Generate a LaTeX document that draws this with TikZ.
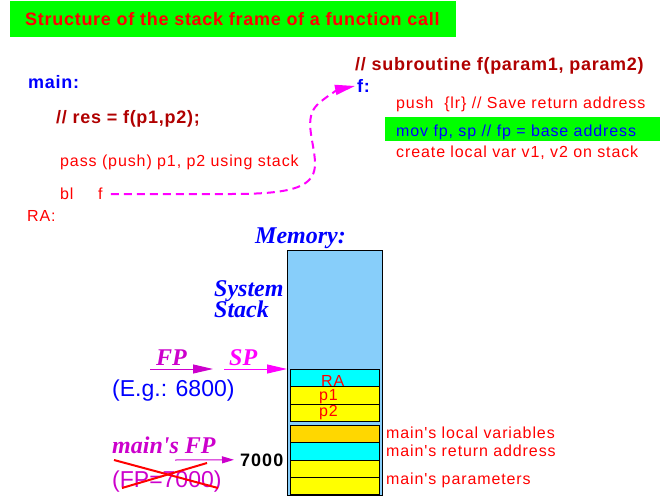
\documentclass[tikz,border=0pt]{standalone}
\usepackage{fontspec}
\setmainfont{Liberation Sans}
\newfontfamily\codefont[LetterSpace=5.6]{Liberation Sans}
\newfontfamily\headfont[LetterSpace=4]{Liberation Sans}
\newfontfamily\memfont{Liberation Serif}
\usetikzlibrary{arrows.meta}
\definecolor{darkred}{RGB}{176,0,0}
\definecolor{brightgreen}{RGB}{0,255,0}
\definecolor{memblue}{RGB}{135,206,250}
\definecolor{cellcyan}{RGB}{0,255,255}
\definecolor{cellyellow}{RGB}{255,255,0}
\definecolor{cellgold}{RGB}{255,215,0}
\definecolor{fpmag}{RGB}{204,0,204}
\definecolor{spmag}{RGB}{255,0,255}
\tikzset{
  txt/.style={anchor=base west,inner sep=0pt},
  code/.style={txt,text=red,font=\codefont\fontsize{16}{19}\selectfont},
  head/.style={txt,font=\headfont\bfseries\fontsize{18}{22}\selectfont},
  mem/.style={txt,font=\memfont\bfseries\itshape\fontsize{24}{28}\selectfont},
  big/.style={txt,font=\fontsize{23}{27}\selectfont},
  cell/.style={draw=black,line width=1pt},
  ptr/.style={line width=1pt,-{Triangle[length=20pt,width=9pt]}},
}
\begin{document}
\begin{tikzpicture}[x=1pt,y=-1pt]
\useasboundingbox (0,0) rectangle (666,497);
\fill[brightgreen] (10,1) rectangle (456,37);
\node[head,text=red] (title) at (25,26) {Structure of the stack frame of a function call};
\node[head,text=blue] (mainlbl) at (28,89) {main:};
\node[head,text=darkred] (rescall) at (56,124) {// res = f(p1,p2);};
\node[code] (passln) at (60,167) {pass (push) p1, p2 using stack};
\node[code] (bl) at (60,200) {bl};
\node[code] (blf) at (98,200) {f};
\node[code] (ra) at (27,222) {RA:};
\node[head,text=darkred] (subhdr) at (355,71) {// subroutine f(param1, param2)};
\node[head,text=blue] (fsub) at (357,92.5) {f:};
\node[code] (pushln) at (396,109) {push\ \ \{lr\} // Save return address};
\fill[brightgreen] (385,117.5) rectangle (660,141.5);
\node[code,text=blue] (movln) at (396,136.5) {mov fp, sp // fp = base address};
\node[code] (createln) at (396,157.5) {create local var v1, v2 on stack};
\draw[spmag,line width=2pt,dash pattern=on 8pt off 5pt,-{Triangle[length=20pt,width=10pt]}]
  ([xshift=8pt]blf.east) -- (232,194) .. controls (296,194) and (316,186) .. (315,162)
  .. controls (314,140) and (303,118) .. (318,104) .. controls (328,95) and (340,89) .. ([xshift=-2pt]fsub.west);
\node[mem,text=blue] (memory) at (255,243) {Memory:};
\draw[cell,fill=memblue] (287,250) rectangle (382,495.5);
\foreach \ytop/\ybot/\clr in {369.3/386.3/cellcyan,386.3/404.3/cellyellow,404.3/421.7/cellyellow,
    425.3/442.3/cellgold,442.3/460/cellcyan,460/477.3/cellyellow,477.3/494.5/cellyellow}
  \draw[cell,fill=\clr] (290.7,\ytop) rectangle (379,\ybot);
\node[code] (cellra) at (321,386.5) {RA};
\node[code] (cellpa) at (319,400.7) {p1};
\node[code] (cellpb) at (319,416.7) {p2};
\node[code] (locvar) at (386,438.3) {main's local variables};
\node[code] (retaddr) at (386,456.7) {main's return address};
\node[code] (params) at (386,484) {main's parameters};
\node[mem,text=blue] (sysa) at (214,296) {System};
\node[mem,text=blue] (sysb) at (214,317) {Stack};
\node[mem,text=fpmag] (fp) at (156,365) {FP};
\node[mem,text=spmag] (sp) at (229,365) {SP};
\coordinate (fpstart) at (150,369);
\coordinate (fpend) at (213,369);
\coordinate (spstart) at (224,369);
\coordinate (spend) at (287,369);
\draw[ptr,fpmag] (fpstart) -- (fpend);
\draw[ptr,spmag] (spstart) -- (spend);
\node[big,text=blue] (eg) at (112,396.7) {(E.g.: 6800)};
\node[mem,text=fpmag] (mainfp) at (112,453) {main's FP};
\node[code,text=black,font=\codefont\bfseries\fontsize{18}{21}\selectfont] (addr) at (240,466) {7000};
\coordinate (mfpstart) at (175,460);
\draw[fpmag,line width=1pt,-{Triangle[length=12pt,width=7pt]}] (mfpstart) -- ([xshift=-6pt]addr.west);
\node[big,text=fpmag] (fpold) at (112,487) {(FP=7000)};
\draw[red,line width=2pt] (114,460) -- (218,488);
\draw[red,line width=2pt] (122,488) -- (207,463);
\end{tikzpicture}
\end{document}
